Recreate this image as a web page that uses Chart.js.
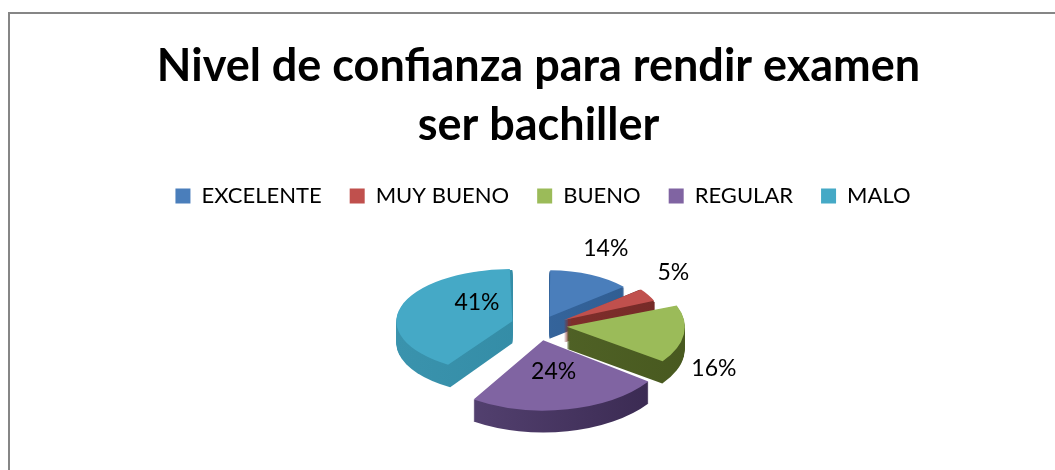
<!DOCTYPE html>
<html>
<head>
<meta charset="utf-8">
<style>
html, body { margin: 0; padding: 0; background: #fff; overflow: hidden; }
#frame { position: absolute; left: 8px; top: 12px; width: 1047px; height: 458px; border-left: 2px solid #868686; border-top: 2px solid #868686; box-sizing: border-box; }
canvas { position: absolute; left: 0; top: 0; }
</style>
<script src="https://cdn.jsdelivr.net/npm/chart.js@4"></script>
</head>
<body>
<div id="frame"></div>
<canvas id="c" width="1055" height="470" style="width:1055px;height:470px"></canvas>
<script>
const categories = ['EXCELENTE', 'MUY BUENO', 'BUENO', 'REGULAR', 'MALO'];
const values = [14, 5, 16, 24, 41];
const colors = ['#4a7ebb', '#c0504d', '#9bbb59', '#8064a2', '#45a9c6'];
const sideColors = ['#3a6ca6', '#8a322f', '#56692c', '#5a4778', '#3a93ad'];
const sideDark = ['#2f5c90', '#752a27', '#48591f', '#38284f', '#2f87a1'];
const explode = [20, 22, 22, 28, 34];
// the original has perspective, nearer slices come out bigger and rounder
const radii = [97, 98, 118, 130, 116];
const squash = [0.48, 0.5, 0.5, 0.54, 0.45];
const shifts = [-4, 0, 0, -7, 0];
const labelNudge = [[15, -26], [25, -22], [30, 34], [-14, -38], [76, -4]];

const depth = 22;
const shiftX = 6.5;

function inSlice(ctx, arc, i, paint) {
  ctx.save();
  ctx.translate(shiftX + shifts[i], arc.y);
  ctx.scale(1, squash[i]);
  ctx.translate(0, -arc.y);
  paint();
  ctx.restore();
}

const tilt = {
  id: 'tilt',
  afterLayout(chart) {
    // legend sits a little right of the title in the original
    chart.legend.left += 4.5;
    chart.legend.right += 4.5;
  },
  afterDatasetsUpdate(chart) {
    chart.getDatasetMeta(0).data.forEach((arc, i) => {
      // arc.draw grows the radius by offset * fix, take that back out
      const fix = 1 - Math.sin(Math.min(Math.PI, arc.circumference));
      arc.outerRadius = radii[i] - explode[i] * fix;
    });
  },
  beforeDatasetsDraw(chart) {
    const { ctx } = chart;
    const arcs = chart.getDatasetMeta(0).data;
    // side walls first, then the library's arcs on top
    arcs.forEach((arc, i) => {
      const mid = (arc.startAngle + arc.endAngle) / 2;
      const x = arc.x + Math.cos(mid) * explode[i];
      const y = arc.y + Math.sin(mid) * explode[i];
      const wall = ctx.createLinearGradient(x - radii[i], 0, x + radii[i], 0);
      wall.addColorStop(0, sideColors[i]);
      wall.addColorStop(1, sideDark[i]);
      inSlice(ctx, arc, i, () => {
        ctx.fillStyle = wall;
        for (let d = depth; d > 0; d--) {
          const dy = d / squash[i];
          ctx.beginPath();
          ctx.moveTo(x, y + dy);
          ctx.arc(x, y + dy, radii[i], arc.startAngle, arc.endAngle);
          ctx.closePath();
          ctx.fill();
        }
      });
    });
    arcs.forEach((arc, i) => inSlice(ctx, arc, i, () => arc.draw(ctx)));
  },
  beforeDatasetDraw() {
    return false;
  },
  afterDatasetsDraw(chart) {
    const { ctx } = chart;
    ctx.save();
    ctx.fillStyle = '#000';
    ctx.font = '23px Lato';
    ctx.textAlign = 'center';
    ctx.textBaseline = 'middle';
    chart.getDatasetMeta(0).data.forEach((arc, i) => {
      const mid = (arc.startAngle + arc.endAngle) / 2;
      const r = explode[i] + radii[i];
      const x = arc.x + shiftX + shifts[i] + Math.cos(mid) * r + labelNudge[i][0];
      const y = arc.y + Math.sin(mid) * r * squash[i] + labelNudge[i][1];
      ctx.fillText(values[i] + '%', x, y);
    });
    ctx.restore();
  }
};

new Chart(document.getElementById('c'), {
  type: 'pie',
  data: {
    labels: categories,
    // arc element divides offset by 4 when it draws
    datasets: [{ data: values, backgroundColor: colors, borderWidth: 0, offset: explode.map(e => e * 4) }]
  },
  options: {
    responsive: false,
    animation: false,
    radius: 98,
    layout: { padding: { left: 22, right: 0, top: 0, bottom: 36 } },
    plugins: {
      title: {
        display: true,
        text: ['Nivel de confianza para rendir examen', 'ser bachiller'],
        color: '#000',
        font: { family: 'Lato', size: 45, weight: 'bold', lineHeight: 1.333 },
        padding: { top: 36, bottom: 1 }
      },
      legend: {
        display: true,
        labels: {
          boxWidth: 15, boxHeight: 15, color: '#000', padding: 28,
          font: { family: 'Lato', size: 22 }
        }
      },
      tooltip: { enabled: false }
    }
  },
  plugins: [tilt]
});
</script>
</body>
</html>
